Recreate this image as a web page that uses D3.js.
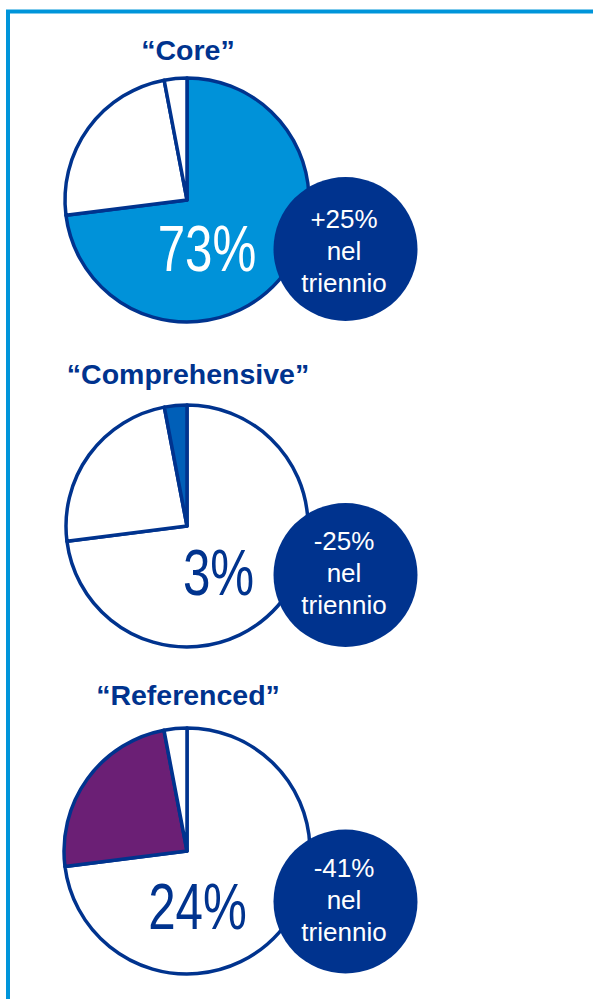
<!DOCTYPE html>
<html>
<head>
<meta charset="utf-8">
<script src="https://cdn.jsdelivr.net/npm/d3@7"></script>
<style>
  html, body { margin: 0; padding: 0; background: #fff; }
  svg { display: block; }
  text { font-family: "Liberation Sans", Arial, Helvetica, sans-serif; }
</style>
</head>
<body>
<svg id="chart" width="593" height="999"></svg>
<script>
// Slices, clockwise from 12 o'clock
const sliceNames = ["Core", "Referenced", "Comprehensive"];
const sliceValues = [73, 24, 3];

// One pie per model, top to bottom
const panelNames = ["Core", "Comprehensive", "Referenced"];
const panelTitles = ["\u201CCore\u201D", "\u201CComprehensive\u201D", "\u201CReferenced\u201D"];
const panelChanges = ["+25%", "-25%", "-41%"];
const changeNote = ["nel", "triennio"];

// Styling
const navy = "#00338e";
const frameBlue = "#0095da";
const highlightFill = { Core: "#0092d9", Comprehensive: "#005fb8", Referenced: "#6b1f75" };
const bigLabelFill = { Core: "#ffffff", Comprehensive: navy, Referenced: navy };

// Layout of the three panels
const pieX = 187;
const pieY = [200, 526, 851];
const pieR = [122, 121, 123];
const titleY = [59.5, 383.5, 705];
const bigLabelPos = [[207, 271], [218.5, 595], [197.5, 929]];
const badgeDX = 158.5, badgeDY = [49, 49, 50.5], badgeR = 72;
const badgeLineDY = [[-21, 11, 43], [-25, 7, 38.6], [-25, 7.5, 39]];

const svg = d3.select("#chart");

// Frame: left and top rule
svg.append("path")
  .attr("d", "M8,999 V11.5 H593")
  .attr("fill", "none")
  .attr("stroke", frameBlue)
  .attr("stroke-width", 4);

const slices = sliceNames.map((name, i) => ({ name, value: sliceValues[i] }));
const pie = d3.pie().value(d => d.value).sort(null).startAngle(0).endAngle(2 * Math.PI);
const arcsData = pie(slices);

panelNames.forEach((panel, i) => {
  const g = svg.append("g");
  const arc = d3.arc().innerRadius(0).outerRadius(pieR[i]);

  // Title
  g.append("text")
    .attr("x", pieX + 1)
    .attr("y", titleY[i])
    .attr("text-anchor", "middle")
    .attr("font-size", 28.5)
    .attr("font-weight", "bold")
    .attr("fill", navy)
    .text(panelTitles[i]);

  // Pie
  g.append("g")
    .attr("transform", `translate(${pieX},${pieY[i]})`)
    .selectAll("path")
    .data(arcsData)
    .join("path")
    .attr("d", arc)
    .attr("fill", d => d.data.name === panel ? highlightFill[panel] : "#ffffff")
    .attr("stroke", navy)
    .attr("stroke-width", 3.5)
    .attr("stroke-linejoin", "round");

  // Share of the highlighted slice, in a condensed face
  const share = sliceValues[sliceNames.indexOf(panel)];
  g.append("text")
    .attr("transform", `translate(${bigLabelPos[i][0]},${bigLabelPos[i][1]}) scale(0.77,1)`)
    .attr("text-anchor", "middle")
    .attr("font-size", 64)
    .attr("fill", bigLabelFill[panel])
    .text(share + "%");

  // Three-year change badge
  const bx = pieX + badgeDX, by = pieY[i] + badgeDY[i];
  g.append("circle")
    .attr("cx", bx)
    .attr("cy", by)
    .attr("r", badgeR)
    .attr("fill", navy);

  const lines = [panelChanges[i]].concat(changeNote);
  g.append("g")
    .selectAll("text")
    .data(lines)
    .join("text")
    .attr("x", bx - 1.5)
    .attr("y", (d, k) => by + badgeLineDY[i][k])
    .attr("text-anchor", "middle")
    .attr("font-size", 26)
    .attr("fill", "#ffffff")
    .text(d => d);
});
</script>
</body>
</html>
